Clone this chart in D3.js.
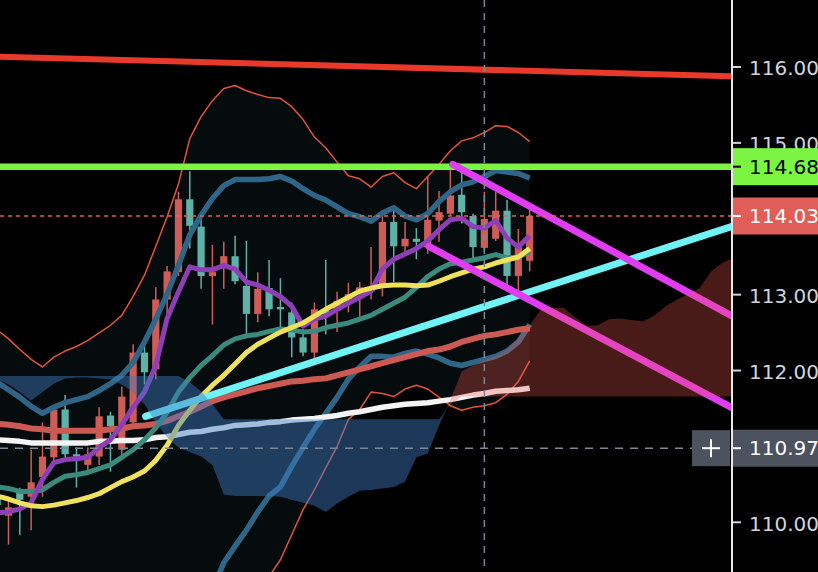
<!DOCTYPE html>
<html><head><meta charset="utf-8">
<script src="https://cdn.jsdelivr.net/npm/d3@7"></script>
<style>html,body{margin:0;padding:0;background:#000;overflow:hidden}</style>
</head><body>
<svg id="c" width="818" height="572"></svg>
<script>
// ---- candle data (bar 0 is the partly hidden bar at the left edge) ----
const opens  = [110.30,110.08,110.40,110.33,110.59,110.85,111.48,110.89,110.75,110.86,111.40,110.95,111.31,112.23,112.01,112.93,113.29,114.25,113.89,113.24,113.38,113.50,113.11,112.74,113.08,112.83,112.76,112.43,112.23,112.79,112.78,112.93,113.00,113.04,113.11,113.95,113.63,113.73,113.62,113.97,114.06,114.31,114.03,113.61,113.73,114.10,113.24,113.44];
const highs  = [110.40,110.29,110.45,110.95,111.31,111.51,111.67,110.98,110.98,111.51,111.45,111.78,112.34,112.34,113.09,113.37,114.35,114.62,113.99,113.65,113.69,113.77,113.70,113.29,113.45,113.21,112.89,112.54,112.89,113.45,113.03,113.15,113.16,113.62,114.03,114.16,113.95,113.87,114.55,114.36,114.68,114.61,114.06,114.35,114.35,114.24,113.86,114.12];
const lows   = [110.10,109.70,109.83,109.89,110.33,110.79,110.85,110.45,110.65,110.75,110.66,110.82,111.28,111.81,111.88,112.71,113.24,113.60,113.07,112.60,113.07,113.13,112.47,112.63,112.71,112.54,112.17,112.18,112.14,112.47,112.50,112.76,112.70,112.93,112.97,113.16,113.50,113.46,113.53,113.69,114.03,113.93,113.46,113.57,113.70,113.09,113.04,113.30];
const closes = [110.22,110.19,110.29,110.52,110.86,111.48,110.89,110.86,110.89,111.39,111.26,111.65,112.23,111.97,112.93,113.30,114.25,113.90,113.24,113.29,113.50,113.17,112.74,113.07,112.80,112.80,112.43,112.23,112.80,112.74,112.91,113.00,113.09,113.09,113.95,113.63,113.73,113.69,113.98,114.08,114.30,114.08,113.62,113.99,114.10,113.24,113.62,114.03];

// ---- indicator lines, one value per bar ----
const upperBB = [112.53,112.41,112.27,112.14,112.04,112.17,112.25,112.31,112.39,112.49,112.59,112.72,112.97,113.25,113.63,114.02,114.45,115.05,115.34,115.55,115.71,115.75,115.68,115.63,115.59,115.58,115.47,115.30,115.07,114.93,114.74,114.56,114.52,114.41,114.55,114.60,114.47,114.39,114.55,114.71,114.89,115.02,115.06,115.13,115.22,115.21,115.13,115.01];
const lowerBB = [109.30,109.28,109.25,109.22,109.20,109.18,109.15,109.12,109.10,109.05,109.00,108.95,108.85,108.70,108.55,108.40,108.30,108.20,108.15,108.20,108.35,108.55,108.80,109.05,109.28,109.50,109.83,110.16,110.42,110.71,110.99,111.35,111.48,111.71,111.69,111.65,111.75,111.80,111.75,111.64,111.53,111.47,111.51,111.53,111.57,111.68,111.85,112.12];
const upperBand = [111.84,111.74,111.64,111.52,111.43,111.51,111.57,111.61,111.65,111.73,111.82,111.93,112.10,112.37,112.67,113.00,113.38,113.78,114.04,114.26,114.43,114.51,114.51,114.51,114.52,114.55,114.49,114.39,114.30,114.24,114.15,114.06,114.02,113.96,114.07,114.14,114.03,113.98,114.06,114.22,114.35,114.44,114.48,114.55,114.63,114.61,114.59,114.53];
const lowerBand = [108.95,108.92,108.90,108.88,108.86,108.85,108.85,108.84,108.82,108.78,108.72,108.62,108.50,108.38,108.28,108.25,108.35,108.55,108.82,109.10,109.46,109.68,109.89,110.13,110.34,110.46,110.73,110.98,111.22,111.43,111.64,111.88,112.04,112.18,112.18,112.17,112.22,112.25,112.21,112.16,112.09,112.06,112.10,112.14,112.18,112.25,112.37,112.60];
const maPurple = [110.12,110.13,110.17,110.25,110.56,110.78,110.82,110.83,110.85,110.98,111.08,111.28,111.51,111.71,112.06,112.68,113.03,113.36,113.32,113.32,113.38,113.33,113.16,113.12,113.05,112.97,112.84,112.58,112.67,112.71,112.80,112.88,112.96,113.04,113.33,113.46,113.53,113.60,113.70,113.85,113.98,114.00,113.89,113.87,113.97,113.74,113.62,113.77];
const maYellow = [110.34,110.30,110.25,110.21,110.20,110.22,110.25,110.28,110.32,110.37,110.45,110.53,110.59,110.67,110.81,111.01,111.27,111.47,111.65,111.80,111.93,112.08,112.23,112.34,112.42,112.50,112.56,112.62,112.71,112.80,112.88,112.96,113.04,113.08,113.11,113.12,113.12,113.11,113.12,113.17,113.23,113.28,113.33,113.36,113.41,113.45,113.49,113.60];
const maGreen = [110.46,110.44,110.40,110.40,110.42,110.52,110.60,110.62,110.65,110.70,110.75,110.85,110.95,111.08,111.24,111.44,111.71,111.90,112.06,112.19,112.33,112.41,112.45,112.47,112.51,112.54,112.53,112.50,112.51,112.56,112.59,112.62,112.67,112.72,112.80,112.88,112.96,113.09,113.23,113.33,113.40,113.42,113.45,113.48,113.52,113.48,113.49,113.56];
const maRed = [111.29,111.28,111.26,111.23,111.22,111.20,111.20,111.20,111.20,111.20,111.22,111.23,111.26,111.27,111.29,111.33,111.39,111.45,111.52,111.59,111.64,111.68,111.72,111.76,111.79,111.82,111.85,111.86,111.88,111.89,111.93,111.97,112.01,112.05,112.09,112.13,112.17,112.21,112.25,112.27,112.31,112.37,112.41,112.45,112.47,112.50,112.53,112.55];
const maWhite = [111.08,111.07,111.06,111.04,111.04,111.04,111.04,111.04,111.04,111.06,111.06,111.07,111.07,111.08,111.11,111.12,111.15,111.18,111.19,111.22,111.24,111.27,111.28,111.29,111.31,111.32,111.34,111.35,111.36,111.38,111.40,111.43,111.45,111.48,111.51,111.53,111.55,111.56,111.57,111.59,111.61,111.64,111.67,111.69,111.72,111.73,111.74,111.76];

// ---- Ichimoku cloud spans (extend into the future) ----
const spanA = [111.88,111.81,111.71,111.60,111.71,111.82,111.89,111.90,111.90,111.89,111.88,111.81,111.71,111.55,111.31,111.11,110.98,110.92,110.86,110.75,110.36,110.34,110.34,110.34,110.34,110.33,110.29,110.25,110.21,110.13,110.24,110.33,110.41,110.42,110.44,110.46,110.53,110.85,110.90,111.27,111.61,111.98,112.06,112.13,112.18,112.27,112.43,112.59,112.80,112.82,112.82,112.70,112.58,112.59,112.67,112.68,112.66,112.64,112.72,112.84,112.93,113.00,113.08,113.30,113.41,113.48];
const spanB = [111.92,111.92,111.92,111.92,111.92,111.92,111.92,111.92,111.92,111.92,111.92,111.92,111.92,111.92,111.92,111.92,111.92,111.84,111.72,111.55,111.35,111.35,111.35,111.35,111.35,111.35,111.35,111.35,111.35,111.35,111.35,111.35,111.35,111.35,111.35,111.35,111.35,111.35,111.35,111.35,111.55,111.65,111.65,111.65,111.65,111.65,111.65,111.65,111.65,111.65,111.65,111.65,111.65,111.65,111.65,111.65,111.65,111.65,111.65,111.65,111.65,111.65,111.65,111.65,111.65,111.65];

// ---- drawings: [bar, price] endpoints ----
const trendRed = [[0,116.13],[65,115.87]];
const levelGreen = 114.68;
const trendCyan = [[13.1,111.39],[65,113.90]];
const trendMagenta1 = [[40.2,114.71],[65,112.70]];
const trendMagenta2 = [[38.1,113.63],[65,111.49]];
const lastPrice = 114.03;
const crossBar = 43, crossPrice = 110.97;

// ---- axis (114.00 and 111.00 sit under the price badges) ----
const tickValues = [117,116,115,113,112,110];
const tickLabels = ["117.00","116.00","115.00","113.00","112.00","110.00"];
const badgeValues = [114.68,114.03,110.97];
const badgeLabels = ["114.68","114.03","110.97"];

// ================= drawing =================
const W = 818, H = 572, PR = 731;
const x = d3.scaleLinear().domain([0,47]).range([-2.83,529.68]);
const y = d3.scaleLinear().domain([110,116]).range([521.8,66.5]);
const svg = d3.select('#c');
svg.append('rect').attr('width',W).attr('height',H).attr('fill','#000');
const defs = svg.append('defs');
defs.append('clipPath').attr('id','plot').append('rect').attr('width',PR).attr('height',H);
const g = svg.append('g').attr('clip-path','url(#plot)');

// Bollinger fill
const bbArea = d3.area().x((d,i)=>x(i)).y0((d,i)=>y(lowerBB[i])).y1(d=>y(d));
g.append('path').datum(upperBB).attr('d',bbArea).attr('fill','#060b0d');

// candles
const idx = d3.range(opens.length);
const up = i => closes[i] >= opens[i];
const cRed = '#cf5d57', cTeal = '#5fb2a7';
g.append('g').selectAll('line').data(idx).join('line')
  .attr('x1',i=>x(i)).attr('x2',i=>x(i))
  .attr('y1',i=>y(highs[i])).attr('y2',i=>y(lows[i]))
  .attr('stroke',i=>up(i)?cRed:cTeal).attr('stroke-width',1.5);
g.append('g').selectAll('rect').data(idx).join('rect')
  .attr('x',i=>x(i)-3.6).attr('width',7.2)
  .attr('y',i=>y(Math.max(opens[i],closes[i])))
  .attr('height',i=>Math.max(1.5,Math.abs(y(opens[i])-y(closes[i]))))
  .attr('fill',i=>up(i)?cRed:cTeal);

const line = d3.line().x((d,i)=>x(i)).y(d=>y(d)).curve(d3.curveLinear);
function drawLine(data,color,w){
  g.append('path').datum(data).attr('d',line).attr('fill','none')
   .attr('stroke',color).attr('stroke-width',w).attr('stroke-linejoin','round');
}
drawLine(upperBB,'#e3533f',1.5);
drawLine(lowerBB,'#e3533f',1.5);
drawLine(upperBand,'#2f6688',5.5);
drawLine(lowerBand,'#2f6688',5.5);
drawLine(maWhite,'#f4f4f4',5.5);
drawLine(maRed,'#cd5a52',6);
drawLine(maGreen,'#3a8a7d',5);
drawLine(maPurple,'#8e3fb5',5);
drawLine(maYellow,'#efe15c',5);

// drawings
const seg = d3.line().x(d=>x(d[0])).y(d=>y(d[1]));
function drawSeg(pts,color,w,cap){
  g.append('path').datum(pts).attr('d',seg).attr('fill','none')
   .attr('stroke',color).attr('stroke-width',w).attr('stroke-linecap',cap||'butt');
}
drawSeg(trendRed,'#e8392b',6);
drawSeg([[0,levelGreen],[65,levelGreen]],'#7bf542',6.5);
drawSeg(trendCyan,'#6ff3f4',7,'round');
drawSeg(trendMagenta1,'#e03cf2',7,'round');
drawSeg(trendMagenta2,'#e03cf2',7,'round');

// Ichimoku cloud (difference areas)
const sIdx = d3.range(spanA.length);
const aboveA = d3.area().x(i=>x(i)).y0(-50).y1(i=>y(spanA[i]));
const belowA = d3.area().x(i=>x(i)).y0(i=>y(spanA[i])).y1(H+50);
defs.append('clipPath').attr('id','aboveA').append('path').attr('d',aboveA(sIdx));
defs.append('clipPath').attr('id','belowA').append('path').attr('d',belowA(sIdx));
const cloudBlue = d3.area().x(i=>x(i)).y0(i=>y(spanB[i])).y1(H+50);
const cloudRed = d3.area().x(i=>x(i)).y0(-50).y1(i=>y(spanB[i]));
g.append('path').attr('d',cloudBlue(sIdx)).attr('clip-path','url(#aboveA)')
  .attr('fill','#3f7bc0').attr('fill-opacity',0.45);
g.append('path').attr('d',cloudRed(sIdx)).attr('clip-path','url(#belowA)')
  .attr('fill','#f25a50').attr('fill-opacity',0.3);

// last price dashed line
g.append('line').attr('x1',0).attr('x2',PR).attr('y1',y(lastPrice)).attr('y2',y(lastPrice))
  .attr('stroke','#e0605a').attr('stroke-width',1.5).attr('stroke-dasharray','4,4');

// crosshair
svg.append('line').attr('x1',x(crossBar)).attr('x2',x(crossBar)).attr('y1',0).attr('y2',H)
  .attr('stroke','#7c8796').attr('stroke-width',1.5).attr('stroke-dasharray','7,6');
svg.append('line').attr('x1',0).attr('x2',692).attr('y1',y(crossPrice)).attr('y2',y(crossPrice))
  .attr('stroke','#7c8796').attr('stroke-width',1.5).attr('stroke-dasharray','8,7');

// axis
const font = '"DejaVu Sans", Verdana, sans-serif';
svg.append('rect').attr('x',PR).attr('y',0).attr('width',W-PR).attr('height',H).attr('fill','#000');
const ax = svg.append('g').attr('transform',`translate(${PR+1},0)`)
  .call(d3.axisRight(y).tickValues(tickValues).tickFormat((d,i)=>tickLabels[i]).tickSize(9).tickPadding(8));
ax.select('.domain').remove();
ax.selectAll('.tick line').attr('stroke','#d1d4dc').attr('stroke-width',2);
ax.selectAll('.tick text').attr('fill','#d1d4dc').attr('font-family',font).attr('font-size',20).attr('dy','0.42em');
svg.append('line').attr('x1',PR+1).attr('x2',PR+1).attr('y1',0).attr('y2',H).attr('stroke','#e8e8e8').attr('stroke-width',2);

// badges
const badgeFill = ['#7bf542','#df5f58','#4c525e'];
const badgeText = ['#000','#fff','#fff'];
badgeValues.forEach((v,i)=>{
  const cy = y(v);
  svg.append('rect').attr('x',PR+2).attr('y',cy-18.5).attr('width',W-PR).attr('height',37).attr('fill',badgeFill[i]);
  svg.append('line').attr('x1',PR+2).attr('x2',PR+10).attr('y1',cy).attr('y2',cy).attr('stroke',badgeText[i]).attr('stroke-width',2);
  svg.append('text').attr('x',PR+18).attr('y',cy).attr('dy','0.36em').attr('fill',badgeText[i])
    .attr('font-family',font).attr('font-size',20).text(badgeLabels[i]);
});
// crosshair plus box
const pc = y(crossPrice);
svg.append('rect').attr('x',692).attr('y',pc-18).attr('width',38).attr('height',36).attr('fill','#4c525e');
svg.append('line').attr('x1',702).attr('x2',720).attr('y1',pc).attr('y2',pc).attr('stroke','#fff').attr('stroke-width',2);
svg.append('line').attr('x1',711).attr('x2',711).attr('y1',pc-9).attr('y2',pc+9).attr('stroke','#fff').attr('stroke-width',2);
</script>
</body></html>
